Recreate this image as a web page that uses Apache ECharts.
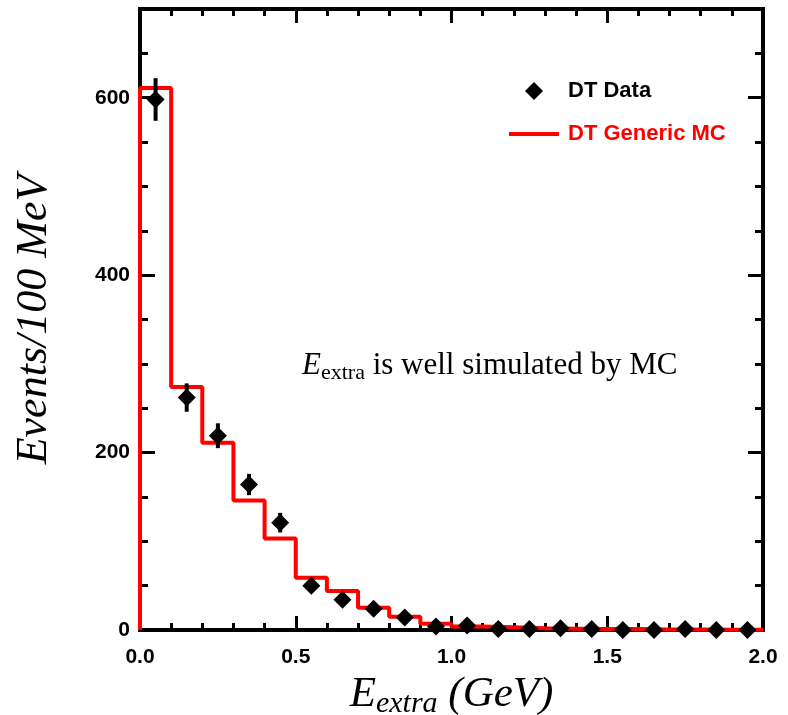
<!DOCTYPE html>
<html>
<head>
<meta charset="utf-8">
<script src="https://cdn.jsdelivr.net/npm/echarts@6/dist/echarts.min.js"></script>
<style>
  html, body { margin: 0; padding: 0; background: #fff; }
  #chart { width: 788px; height: 715px; }
</style>
</head>
<body>
<div id="chart"></div>
<script>
// Bin centres (GeV) of the 100 MeV bins
const binCenters = [0.05, 0.15, 0.25, 0.35, 0.45, 0.55, 0.65, 0.75, 0.85, 0.95,
                    1.05, 1.15, 1.25, 1.35, 1.45, 1.55, 1.65, 1.75, 1.85, 1.95];
// Lower bin edges (GeV) plus the upper edge of the last bin
const binEdges = [0.0, 0.1, 0.2, 0.3, 0.4, 0.5, 0.6, 0.7, 0.8, 0.9,
                  1.0, 1.1, 1.2, 1.3, 1.4, 1.5, 1.6, 1.7, 1.8, 1.9, 2.0];
// DT data: events per bin and their statistical errors
const dataCounts = [598, 262, 219, 164, 121, 50, 34, 24, 14, 4,
                    5, 1, 1, 2, 1, 0, 0, 1, 0, 0];
const dataErrors = [24, 16, 14, 12, 11, 7, 6, 5, 4, 2,
                    2, 1, 1, 1, 1, 0, 0, 1, 0, 0];
// DT generic MC histogram contents
const mcCounts = [611, 274, 211, 146, 103, 59, 44, 25, 15, 7,
                  4, 3, 2, 1.5, 1, 1, 0.5, 0.5, 0.3, 0.3];

const seriesNames = ['DT Data', 'DT Generic MC'];
const yMajorLabels = [0, 200, 400, 600];

const chart = echarts.init(document.getElementById('chart'));

// Step outline for the MC histogram, starting from zero at the left edge
const mcStep = [[binEdges[0], 0]];
for (let i = 0; i < mcCounts.length; i++) mcStep.push([binEdges[i], mcCounts[i]]);
mcStep.push([binEdges[binEdges.length - 1], mcCounts[mcCounts.length - 1]]);

const dataPoints = binCenters.map((x, i) => [x, dataCounts[i]]);
const errorPoints = binCenters.map((x, i) => [x, dataCounts[i] - dataErrors[i], dataCounts[i] + dataErrors[i]]);

const tickLabelFont = { fontFamily: 'Liberation Sans', fontWeight: 'bold', fontSize: 21, color: '#000' };

function xAx(position, interval, len, labels) {
  return {
    type: 'value', position: position, offset: 0, min: 0, max: 2, interval: interval,
    axisLine: { show: false, onZero: false },
    axisTick: { show: true, inside: true, length: len, lineStyle: { color: '#000', width: 3 } },
    axisLabel: labels ? Object.assign({ show: true, margin: 17, formatter: v => v.toFixed(1) }, tickLabelFont) : { show: false },
    splitLine: { show: false }
  };
}
function yAx(position, interval, len, labels) {
  return {
    type: 'value', position: position, offset: 0, min: 0, max: 700, interval: interval,
    axisLine: { show: false, onZero: false },
    axisTick: { show: true, inside: true, length: len, lineStyle: { color: '#000', width: 3 } },
    axisLabel: labels ? Object.assign({ show: true, margin: 10,
      formatter: v => (yMajorLabels.indexOf(v) >= 0 ? String(v) : '') }, tickLabelFont) : { show: false },
    splitLine: { show: false }
  };
}

const xAxes = [
  xAx('bottom', 0.5, 14, true),
  xAx('bottom', 0.1, 7, false),
  xAx('top', 0.5, 14, false),
  xAx('top', 0.1, 7, false)
];
Object.assign(xAxes[0], {
  name: '{e|E}{s|extra}{g| (GeV)}',
  nameLocation: 'middle',
  nameGap: 32,
  nameTextStyle: {
    rich: {
      e: { fontFamily: 'Liberation Serif', fontStyle: 'italic', fontSize: 43, color: '#000' },
      s: { fontFamily: 'Liberation Serif', fontStyle: 'italic', fontSize: 30, color: '#000', padding: [20, 0, 0, 0] },
      g: { fontFamily: 'Liberation Serif', fontStyle: 'italic', fontSize: 43, color: '#000' }
    }
  }
});

const yAxes = [
  yAx('left', 200, 15, true),
  yAx('left', 50, 8, false),
  yAx('right', 200, 15, false),
  yAx('right', 50, 8, false)
];
Object.assign(yAxes[0], {
  name: 'Events/100 MeV',
  nameLocation: 'middle',
  nameRotate: 90,
  nameGap: 84,
  nameTextStyle: { fontFamily: 'Liberation Serif', fontStyle: 'italic', fontSize: 44, color: '#000' }
});

chart.setOption({
  animation: false,
  backgroundColor: '#fff',
  grid: { left: 140, right: 25, top: 9, bottom: 85, outerBoundsMode: 'none', containLabel: false,
          show: true, borderColor: '#000', borderWidth: 4, backgroundColor: 'transparent' },
  xAxis: xAxes,
  yAxis: yAxes,
  legend: [
    {
      left: 525, top: 80, padding: 0, itemWidth: 18, itemHeight: 18,
      data: [{ name: seriesNames[0], icon: 'diamond' }],
      textStyle: { fontFamily: 'Liberation Sans', fontWeight: 'bold', fontSize: 22, color: '#000', padding: [0, 0, 0, 20] }
    },
    {
      left: 509, top: 123, padding: 0, itemWidth: 50, itemHeight: 4,
      data: [{ name: seriesNames[1], icon: 'rect' }],
      textStyle: { fontFamily: 'Liberation Sans', fontWeight: 'bold', fontSize: 22, color: '#ff0000', padding: [0, 0, 0, 4] }
    }
  ],
  graphic: [{
    type: 'text',
    left: 302, top: 350,
    style: {
      text: '{i|E}{s|extra}{t| is well simulated by MC}',
      rich: {
        i: { fontFamily: 'Liberation Serif', fontStyle: 'italic', fontSize: 31, fill: '#000' },
        s: { fontFamily: 'Liberation Serif', fontSize: 22, fill: '#000', padding: [15, 0, 0, 0] },
        t: { fontFamily: 'Liberation Serif', fontSize: 31, fill: '#000' }
      }
    }
  }],
  series: [
    {
      name: seriesNames[1],
      type: 'line',
      step: 'end',
      data: mcStep,
      symbol: 'none',
      itemStyle: { color: '#ff0000' },
      lineStyle: { color: '#ff0000', width: 4 },
      z: 2
    },
    {
      name: 'errors',
      type: 'custom',
      data: errorPoints,
      z: 3,
      renderItem: function (params, api) {
        const lo = api.coord([api.value(0), api.value(1)]);
        const hi = api.coord([api.value(0), api.value(2)]);
        return {
          type: 'line',
          shape: { x1: lo[0], y1: lo[1], x2: hi[0], y2: hi[1] },
          style: { stroke: '#000', lineWidth: 4 }
        };
      }
    },
    {
      name: seriesNames[0],
      type: 'scatter',
      data: dataPoints,
      symbol: 'diamond',
      symbolSize: 18,
      itemStyle: { color: '#000', opacity: 1 },
      z: 4
    }
  ]
});
</script>
</body>
</html>
